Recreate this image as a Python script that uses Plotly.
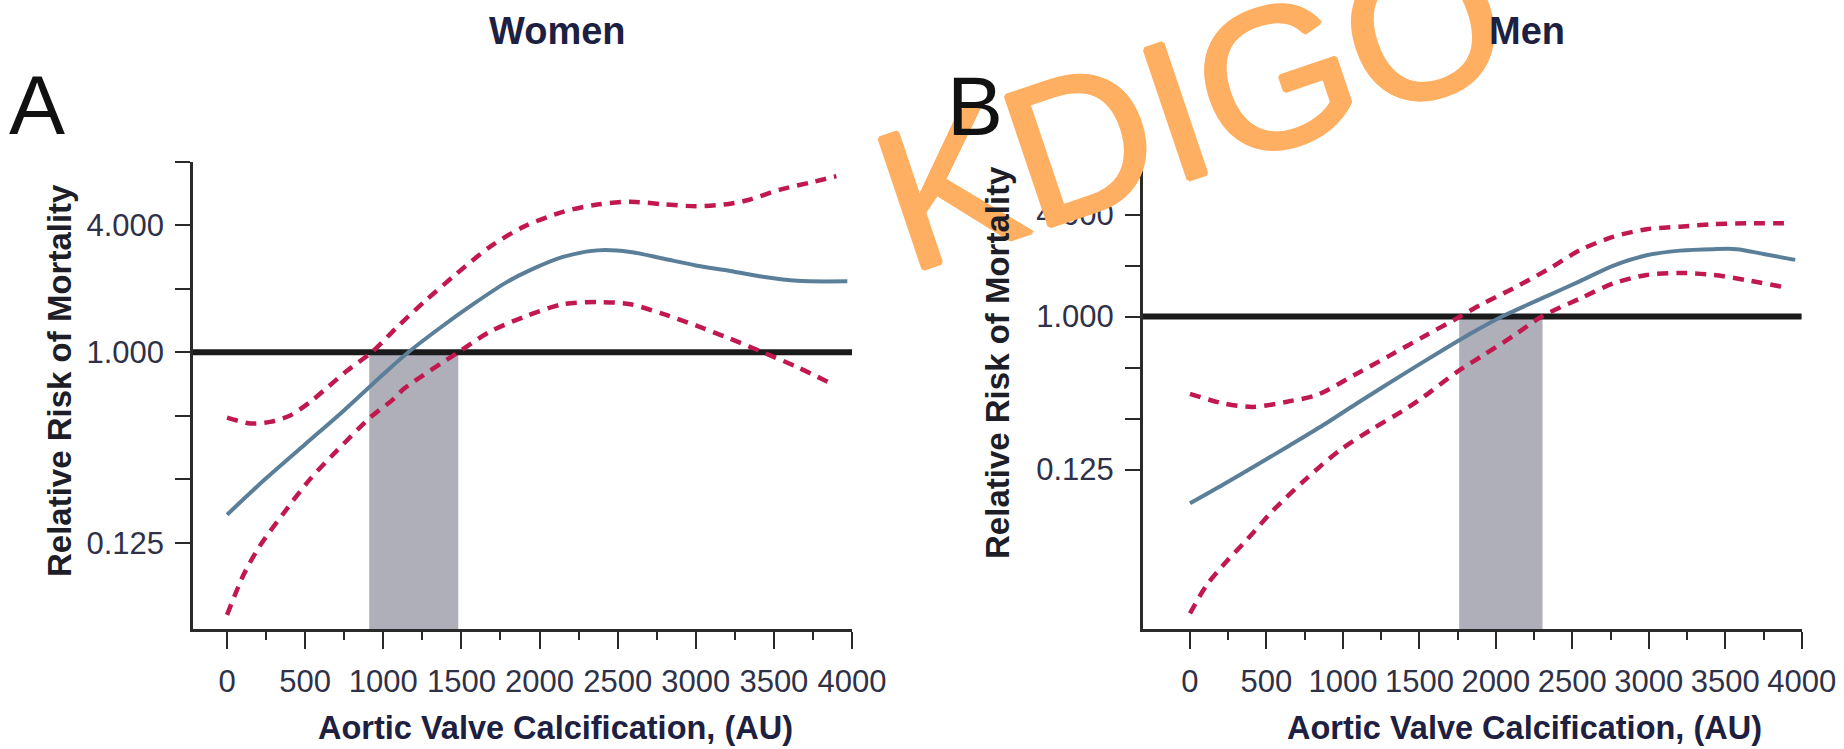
import plotly.graph_objects as go

# ---------------- data ----------------
x_tick_vals = [0, 500, 1000, 1500, 2000, 2500, 3000, 3500, 4000]
x_tick_text = ["0", "500", "1000", "1500", "2000", "2500", "3000", "3500", "4000"]
x_minor_vals = [250, 750, 1250, 1750, 2250, 2750, 3250, 3750]
y_tick_vals = [0.125, 0.25, 0.5, 1, 2, 4, 8]
y_tick_text = ["0.125", "", "", "1.000", "", "4.000", ""]
ref_rr = 1.0

# Women (panel A)
women_band = [910, 1480]
women_mean_x = [0, 250, 500, 750, 1000, 1160, 1360, 1580, 1790, 1940, 2150, 2370, 2580, 2790, 3000, 3220, 3430, 3650, 3970]
women_mean_y = [0.17, 0.253, 0.367, 0.532, 0.787, 1.0, 1.30, 1.70, 2.15, 2.45, 2.83, 3.04, 2.99, 2.78, 2.58, 2.43, 2.28, 2.18, 2.17]
women_up_x = [0, 150, 275, 400, 530, 620, 770, 926, 1090, 1260, 1470, 1680, 1900, 2150, 2370, 2580, 2790, 3000, 3180, 3330, 3540, 3750, 3900]
women_up_y = [0.49, 0.46, 0.468, 0.50, 0.58, 0.66, 0.82, 1.0, 1.32, 1.73, 2.36, 3.15, 3.94, 4.63, 5.01, 5.17, 5.03, 4.92, 5.01, 5.25, 5.90, 6.41, 6.83]
women_lo_x = [0, 105, 210, 360, 530, 700, 915, 1065, 1130, 1480, 1680, 1900, 2150, 2370, 2580, 2790, 3000, 3220, 3430, 3650, 3870]
women_lo_y = [0.057, 0.088, 0.121, 0.172, 0.25, 0.34, 0.49, 0.60, 0.67, 1.0, 1.25, 1.47, 1.69, 1.73, 1.69, 1.52, 1.34, 1.16, 1.0, 0.85, 0.71]

# Men (panel B)
men_band = [1760, 2305]
men_mean_x = [0, 218, 436, 654, 872, 1090, 1417, 1635, 1853, 2040, 2333, 2551, 2769, 2986, 3204, 3422, 3575, 3749, 3957]
men_mean_y = [0.079, 0.102, 0.133, 0.174, 0.229, 0.307, 0.47, 0.62, 0.81, 1.0, 1.32, 1.62, 2.0, 2.30, 2.45, 2.50, 2.50, 2.34, 2.16]
men_up_x = [0, 218, 414, 654, 829, 1090, 1308, 1526, 1766, 1897, 2115, 2333, 2551, 2769, 2986, 3204, 3422, 3640, 3902]
men_up_y = [0.35, 0.307, 0.293, 0.317, 0.344, 0.46, 0.59, 0.76, 1.0, 1.17, 1.47, 1.88, 2.47, 2.96, 3.28, 3.39, 3.51, 3.55, 3.55]
men_lo_x = [0, 109, 240, 371, 545, 763, 981, 1199, 1417, 1526, 1744, 1929, 2115, 2300, 2551, 2769, 2986, 3204, 3422, 3640, 3869]
men_lo_y = [0.0177, 0.026, 0.036, 0.048, 0.072, 0.111, 0.163, 0.219, 0.287, 0.335, 0.47, 0.60, 0.77, 1.0, 1.28, 1.57, 1.76, 1.81, 1.76, 1.64, 1.50]

# ---------------- style ----------------
FONT = "Liberation Sans, Arial, sans-serif"
AXIS_C = "#2a2a2a"
TICK_C = "#2e3148"
TITLE_C = "#1d2040"
MEAN_C = "#5b7f99"
CI_C = "#c1184e"
BAND_C = "#aeafb8"
WM_C = "#FFAF62"

fig = go.Figure()


def add_panel(xa, ya, band, x_left, mx, my, ux, uy, lx, ly):
    fig.add_trace(go.Scatter(
        x=[band[0], band[1], band[1], band[0], band[0]],
        y=[1e-3, 1e-3, ref_rr, ref_rr, 1e-3],
        fill="toself", fillcolor=BAND_C, mode="lines", line=dict(width=0),
        xaxis=xa, yaxis=ya, hoverinfo="skip", showlegend=False))
    fig.add_trace(go.Scatter(
        x=[x_left, x_tick_vals[-1]], y=[ref_rr, ref_rr], mode="lines",
        line=dict(color="#1b1b1b", width=6),
        xaxis=xa, yaxis=ya, hoverinfo="skip", showlegend=False))
    for cx, cy in ((ux, uy), (lx, ly)):
        fig.add_trace(go.Scatter(
            x=cx, y=cy, mode="lines",
            line=dict(color=CI_C, width=4.5, dash="11px,8px", shape="spline", smoothing=0.8),
            xaxis=xa, yaxis=ya, showlegend=False))
    fig.add_trace(go.Scatter(
        x=mx, y=my, mode="lines",
        line=dict(color=MEAN_C, width=4, shape="spline", smoothing=0.8),
        xaxis=xa, yaxis=ya, showlegend=False))


A_XLEFT, B_XLEFT = -218, -309
add_panel("x", "y", women_band, A_XLEFT, women_mean_x, women_mean_y,
          women_up_x, women_up_y, women_lo_x, women_lo_y)
add_panel("x2", "y2", men_band, B_XLEFT, men_mean_x, men_mean_y,
          men_up_x, men_up_y, men_lo_x, men_lo_y)


def xaxis_cfg(domain, rng, anchor):
    return dict(
        domain=domain, range=rng, anchor=anchor, automargin=False,
        showline=True, linecolor=AXIS_C, linewidth=2.5,
        ticks="outside", ticklen=17, tickwidth=2, tickcolor=AXIS_C,
        tickmode="array", tickvals=x_tick_vals, ticktext=x_tick_text,
        tickfont=dict(family=FONT, size=31, color=TICK_C),
        ticklabelstandoff=6,
        minor=dict(tickmode="array", tickvals=x_minor_vals, ticks="outside",
                   ticklen=8, tickwidth=2, tickcolor=AXIS_C, showgrid=False),
        showgrid=False, zeroline=False, fixedrange=True)


def yaxis_cfg(domain, rng, anchor):
    return dict(
        domain=domain, range=rng, anchor=anchor, type="log", automargin=False,
        showline=True, linecolor=AXIS_C, linewidth=2.5,
        ticks="outside", ticklen=15, tickwidth=2, tickcolor=AXIS_C,
        tickmode="array", tickvals=y_tick_vals, ticktext=y_tick_text,
        tickfont=dict(family=FONT, size=31, color=TICK_C),
        ticklabelstandoff=5,
        showgrid=False, zeroline=False, fixedrange=True)


Y_DOM = [0.1598, 0.7841]
fig.update_layout(
    width=1844, height=749, autosize=False,
    margin=dict(l=0, r=0, t=0, b=0, autoexpand=False),
    paper_bgcolor="white", plot_bgcolor="white",
    showlegend=False,
    xaxis=xaxis_cfg([0.10466, 0.46204], [A_XLEFT, 4000], "y"),
    yaxis=yaxis_cfg(Y_DOM, [-1.3125, 0.903], "x"),
    xaxis2=xaxis_cfg([0.6197, 0.9771], [B_XLEFT, 4000], "y2"),
    yaxis2=yaxis_cfg(Y_DOM, [-1.846, 0.914], "x2"),
)

ann = []
# watermark (thickened with a text shadow ring)
wm_shadow = ", ".join("%dpx %dpx 0 %s" % (dx, dy, WM_C)
                      for dx, dy in ((2, 0), (-2, 0), (0, 2), (0, -2), (1, 1), (-1, -1), (1, -1), (-1, 1)))
ann.append(dict(text="KDIGO", x=0.6459, y=0.8585, xref="paper", yref="paper",
                xanchor="center", yanchor="middle", showarrow=False, textangle=-18.6,
                font=dict(family=FONT, size=200, color=WM_C, shadow=wm_shadow)))
for txt, x in (("Women", 0.3021), ("Men", 0.8281)):
    ann.append(dict(text="<b>%s</b>" % txt, x=x, y=0.958, xref="paper", yref="paper",
                    xanchor="center", yanchor="middle", showarrow=False,
                    font=dict(family=FONT, size=38, color=TITLE_C)))
for txt, x, y in (("A", 0.02007, 0.8598), ("B", 0.5287, 0.8585)):
    ann.append(dict(text=txt, x=x, y=y, xref="paper", yref="paper",
                    xanchor="center", yanchor="middle", showarrow=False,
                    font=dict(family=FONT, size=84, color="#111111")))
for x, y in ((0.0320, 0.4913), (0.5412, 0.5167)):
    ann.append(dict(text="<b>Relative Risk of Mortality</b>", x=x, y=y, xref="paper", yref="paper",
                    xanchor="center", yanchor="middle", showarrow=False, textangle=-90,
                    font=dict(family=FONT, size=33, color="#1e1e28")))
for x in (0.3015, 0.827):
    ann.append(dict(text="<b>Aortic Valve Calcification, (AU)</b>", x=x, y=0.028,
                    xref="paper", yref="paper", xanchor="center", yanchor="middle",
                    showarrow=False, font=dict(family=FONT, size=32.5, color=TITLE_C)))
fig.update_layout(annotations=ann)

fig.write_html("out.html", config={"responsive": False})
